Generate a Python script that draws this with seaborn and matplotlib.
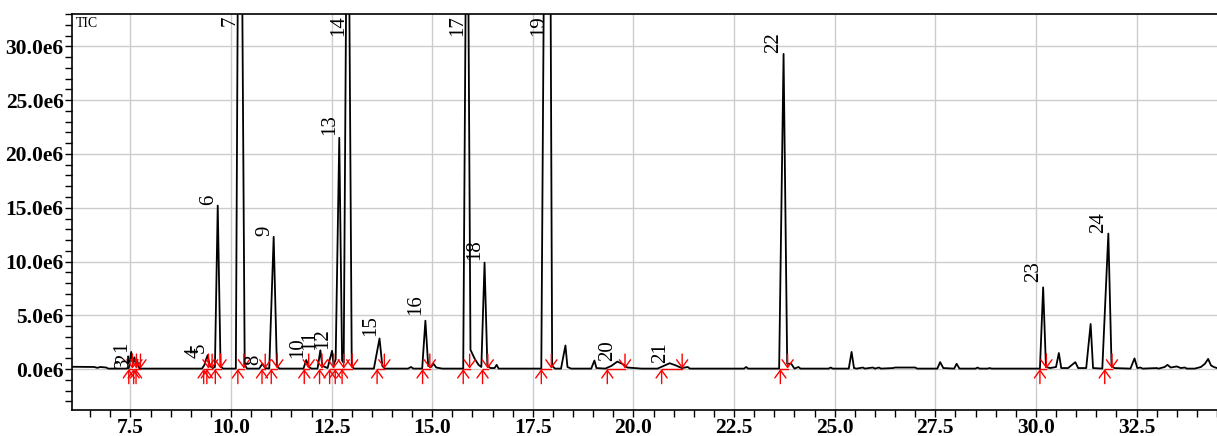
import numpy as np
import pandas as pd
import matplotlib
matplotlib.use('Agg')
import matplotlib.pyplot as plt
import seaborn as sns
from matplotlib.ticker import MultipleLocator, FuncFormatter

# TIC trace (time in min, intensity in 1e6 counts)
trace_t = [6.05, 6.60, 6.68, 6.75, 6.90, 6.95,
           7.40, 7.46, 7.52, 7.56, 7.60, 7.63, 7.66, 7.72, 7.78,
           9.28, 9.34, 9.38, 9.42, 9.47, 9.55, 9.60, 9.67, 9.74, 9.80,
           10.12, 10.175, 10.27, 10.34, 10.40,
           10.70, 10.78, 10.85,
           10.95, 11.06, 11.14, 11.20,
           11.80, 11.87, 11.93, 12.00,
           12.15, 12.22, 12.27, 12.40, 12.51, 12.55, 12.60, 12.69, 12.76, 12.80,
           12.87, 12.93, 13.00, 13.05,
           13.55, 13.69, 13.76, 13.82,
           14.40, 14.47, 14.53, 14.75, 14.83, 14.90, 14.97, 15.03, 15.10, 15.25,
           15.77, 15.84, 15.89, 15.95, 16.05, 16.15, 16.22, 16.30, 16.37, 16.45,
           16.55, 16.60, 16.65,
           17.71, 17.79, 17.93, 17.98, 18.05,
           18.20, 18.31, 18.36, 18.45,
           18.95, 19.03, 19.08, 19.30, 19.45, 19.60, 19.72, 19.85, 20.20,
           20.60, 20.75, 20.90, 21.05, 21.20, 21.35, 21.40,
           22.75, 22.80, 22.85,
           23.62, 23.73, 23.82, 23.92, 24.00, 24.10, 24.15,
           24.85, 24.90, 24.95,
           25.35, 25.42, 25.48, 25.55, 25.70, 25.75, 25.95, 26.00, 26.10, 26.15,
           26.45, 26.50, 27.00, 27.05,
           27.55, 27.62, 27.70, 27.97, 28.03, 28.10, 28.50, 28.55, 28.60,
           28.80, 28.85, 28.90,
           30.10, 30.18, 30.25, 30.35, 30.50, 30.57, 30.63, 30.80, 30.98, 31.05,
           31.25, 31.36, 31.42, 31.65, 31.80, 31.88, 31.95, 32.35, 32.45, 32.52,
           32.60, 32.65, 33.00, 33.05, 33.20, 33.27, 33.35, 33.50, 33.60, 33.70,
           33.75, 33.95, 34.10, 34.20, 34.28, 34.35, 34.42, 34.50]
trace_i = [0.22, 0.20, 0.12, 0.20, 0.15, 0.05,
           0.05, 0.10, 1.60, 0.60, 1.10, 0.50, 0.90, 0.10, 0.05,
           0.05, 0.40, 0.90, 1.30, 0.30, 0.10, 0.20, 15.2, 0.30, 0.05,
           0.05, 40.0, 40.0, 0.40, 0.05,
           0.05, 0.50, 0.10,
           0.05, 12.3, 0.30, 0.05,
           0.05, 0.85, 0.20, 0.05,
           0.05, 1.75, 0.30, 0.10, 1.70, 0.40, 0.90, 21.5, 0.80, 0.60,
           40.0, 40.0, 0.40, 0.05,
           0.05, 2.85, 0.30, 0.05,
           0.05, 0.20, 0.05, 0.05, 4.50, 0.30, 0.20, 0.50, 0.15, 0.05,
           0.05, 40.0, 40.0, 1.80, 1.00, 0.40, 0.20, 9.90, 0.30, 0.10,
           0.10, 0.40, 0.05,
           0.05, 45.0, 45.0, 0.30, 0.05,
           0.05, 2.20, 0.20, 0.05,
           0.05, 0.80, 0.10, 0.05, 0.30, 0.70, 0.50, 0.15, 0.05,
           0.05, 0.30, 0.55, 0.35, 0.10, 0.20, 0.05,
           0.05, 0.20, 0.05,
           0.05, 29.3, 0.50, 0.50, 0.05, 0.20, 0.05,
           0.05, 0.15, 0.05,
           0.05, 1.60, 0.10, 0.05, 0.15, 0.05, 0.15, 0.05, 0.15, 0.05,
           0.10, 0.15, 0.15, 0.05,
           0.05, 0.65, 0.10, 0.05, 0.50, 0.05, 0.05, 0.15, 0.05,
           0.05, 0.10, 0.05,
           0.05, 7.60, 0.20, 0.10, 0.20, 1.50, 0.10, 0.10, 0.65, 0.10,
           0.10, 4.20, 0.10, 0.05, 12.6, 0.30, 0.10, 0.05, 1.00, 0.10,
           0.15, 0.05, 0.10, 0.05, 0.20, 0.40, 0.15, 0.25, 0.10, 0.15,
           0.05, 0.05, 0.20, 0.50, 0.95, 0.35, 0.20, 0.10]

# peak numbers and label anchor (right edge x, bottom y)
peak_num = ['1', '2', '3', '4', '5', '6', '7', '8', '9', '10', '11', '12',
            '13', '14', '15', '16', '17', '18', '19', '20', '21', '22', '23', '24']
label_t = [7.53, 7.60, 7.57, 9.31, 9.44, 9.68, 10.22, 10.81, 11.07, 11.90, 12.19, 12.52,
           12.69, 12.90, 13.70, 14.83, 15.87, 16.30, 17.89, 19.60, 20.92, 23.73, 30.18, 31.80]
label_y = [1.55, 0.45, 0.10, 1.00, 1.50, 15.3, 33.0, 0.40, 12.4, 1.00, 1.75, 1.90,
           21.8, 33.0, 3.10, 5.00, 33.0, 10.1, 33.0, 0.80, 0.55, 29.4, 8.10, 12.7]
# integration start / end marks
start_t = [7.46, 7.58, 7.64, 9.32, 9.40, 9.61, 10.17, 10.77, 11.00, 11.82, 12.20, 12.45,
           12.59, 12.76, 13.63, 14.76, 15.77, 16.25, 17.71, 19.35, 20.70, 23.65, 30.10, 31.71]
end_t = [7.55, 7.65, 7.75, 9.44, 9.53, 9.74, 10.32, 10.85, 11.15, 11.93, 12.26, 12.55,
         12.80, 13.01, 13.81, 14.94, 15.93, 16.38, 17.96, 19.79, 21.21, 23.83, 30.26, 31.89]

df = pd.DataFrame({'t': trace_t, 'i': trace_i})

plt.rcParams['font.family'] = ['Liberation Serif', 'DejaVu Serif']
fig = plt.figure(figsize=(12.17, 4.36), dpi=100)
ax = fig.add_axes([0.0592, 0.0596, 0.9408, 0.908])

ax.grid(True, which='major', color='#cccccc', lw=1, zorder=0)
ax.set_axisbelow(True)

sns.lineplot(data=df, x='t', y='i', sort=False, estimator=None, color='black',
             lw=1.3, ax=ax, zorder=3)

# baseline segments and start/end arrows
arrow = dict(arrowstyle='->,head_length=0.55,head_width=0.4',
             color='red', lw=1, shrinkA=0, shrinkB=0)
for s, e in zip(start_t, end_t):
    ax.plot([s, e], [0, 0], color='red', lw=1, zorder=4)
    ax.annotate('', xy=(s, 0.0), xytext=(s, -1.35), arrowprops=arrow, zorder=5)
    ax.annotate('', xy=(e, 0.05), xytext=(e, 1.4), arrowprops=arrow, zorder=5)

for n, t, y in zip(peak_num, label_t, label_y):
    va = 'top' if y >= 33 else 'bottom'
    yy = 32.9 if y >= 33 else y
    ax.text(t, yy, n, rotation=90, ha='right', va=va, fontsize=15, zorder=6)

ax.text(0.003, 0.993, 'TIC', transform=ax.transAxes, ha='left', va='top', fontsize=10)

ax.set_xlim(6.05, 34.5)
ax.set_ylim(-3.8, 33.0)
ax.xaxis.set_major_locator(MultipleLocator(2.5))
ax.xaxis.set_minor_locator(MultipleLocator(0.5))
ax.yaxis.set_major_locator(MultipleLocator(5))
ax.yaxis.set_minor_locator(MultipleLocator(1))
ax.xaxis.set_major_formatter(FuncFormatter(lambda v, p: f'{v:.1f}'))
ax.yaxis.set_major_formatter(FuncFormatter(lambda v, p: f'{v:.1f}e6'))
ax.tick_params(axis='both', which='both', direction='out', length=5, width=1, pad=1)
ax.tick_params(axis='both', which='major', labelsize=15.5)
for lab in ax.get_xticklabels() + ax.get_yticklabels():
    lab.set_fontweight('bold')
ax.spines['right'].set_visible(False)
for sp in ['left', 'top', 'bottom']:
    ax.spines[sp].set_linewidth(1.2)
ax.set_xlabel('')
ax.set_ylabel('')

fig.savefig('out.png', dpi=100)
